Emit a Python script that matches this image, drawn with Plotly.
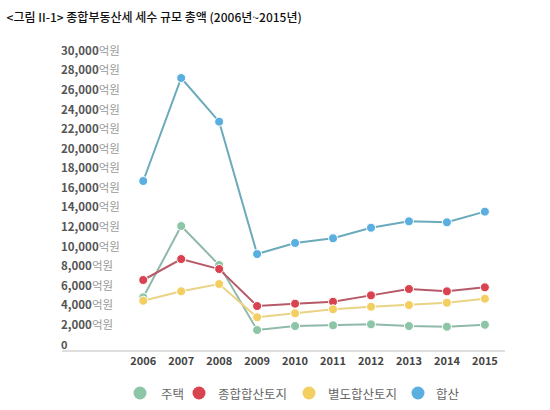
import plotly.graph_objects as go

years = [2006, 2007, 2008, 2009, 2010, 2011, 2012, 2013, 2014, 2015]
housing = [4820, 12100, 8120, 1480, 1890, 1960, 2060, 1890, 1820, 2020]
aggregate_land = [6590, 8730, 7710, 3930, 4170, 4370, 5020, 5670, 5430, 5840]
separate_land = [4470, 5430, 6180, 2780, 3190, 3600, 3860, 4030, 4270, 4680]
total = [16700, 27220, 22760, 9240, 10370, 10850, 11930, 12580, 12480, 13570]

names = ["주택", "종합합산토지", "별도합산토지", "합산"]
marker_colors = ["#8dc6a6", "#d9434f", "#f3cf61", "#5aafe0"]
line_colors = ["#8fb9a8", "#b65a68", "#e9d385", "#6aaabb"]
series = [housing, aggregate_land, separate_land, total]

tick_vals = list(range(2000, 30001, 2000))
tick_text = [f"<b>{v:,}</b><span style='color:#9a9a9a'>억원</span>" for v in tick_vals]

W, H = 550, 410
ML, MR, MT, MB = 62, 45, 41, 60
PW, PH = W - ML - MR, H - MT - MB

fig = go.Figure()
for name, vals, mc, lc in zip(names, series, marker_colors, line_colors):
    fig.add_trace(go.Scatter(
        x=years, y=vals, mode="lines+markers", name=name, showlegend=False,
        line=dict(color=lc, width=2),
        marker=dict(color=mc, size=9, line=dict(color="white", width=1)),
        hoverinfo="skip",
    ))

fig.add_annotation(
    x=0, xref="paper", y=0, yref="y", xanchor="left", yanchor="middle",
    text="<b>0</b>", showarrow=False, xshift=-3, yshift=1,
    font=dict(size=11, color="#555"),
)

# manual legend (pixel positions converted to paper coordinates)
legend_circle_px = [140, 199, 309, 418]
legend_text_px = [159, 216, 326, 434]
legend_y_px = 393
ly = (H - MB - legend_y_px) / PH
for name, mc, cx, tx in zip(names, marker_colors, legend_circle_px, legend_text_px):
    fig.add_shape(
        type="circle", xref="paper", yref="paper",
        xsizemode="pixel", ysizemode="pixel",
        xanchor=(cx - ML) / PW, yanchor=ly,
        x0=-6.5, x1=6.5, y0=-6.5, y1=6.5,
        fillcolor=mc, line=dict(width=0),
    )
    fig.add_annotation(
        x=(tx - ML) / PW, y=ly, xref="paper", yref="paper",
        xanchor="left", yanchor="middle", showarrow=False,
        text=name, font=dict(size=12.5, color="#666"),
    )

fig.update_layout(
    width=W, height=H,
    margin=dict(l=ML, r=MR, t=MT, b=MB),
    paper_bgcolor="white", plot_bgcolor="white",
    font=dict(family="Noto Sans CJK KR", color="#555"),
    title=dict(
        text="<그림 II-1> 종합부동산세 세수 규모 총액 (2006년~2015년)",
        x=0.012, xanchor="left", y=0.957, yanchor="middle",
        font=dict(size=12, color="#111", weight=500),
    ),
    showlegend=False,
    xaxis=dict(
        range=[2003.86, 2015.53], tickvals=years,
        ticktext=[f"<b>{y}</b>" for y in years],
        showgrid=False, zeroline=False, showline=True,
        linecolor="#dedede", linewidth=1.5, ticks="",
        tickfont=dict(size=11, color="#444"),
    ),
    yaxis=dict(
        range=[-560, 31000], tickvals=tick_vals, ticktext=tick_text,
        showgrid=False, zeroline=False, showline=False, ticks="",
        ticklabelposition="inside", ticklabelstandoff=-4,
        tickfont=dict(size=11.5, color="#555"),
    ),
)

fig.write_html("out.html", config={"displayModeBar": False},
               post_script="document.body.style.margin='0';")
